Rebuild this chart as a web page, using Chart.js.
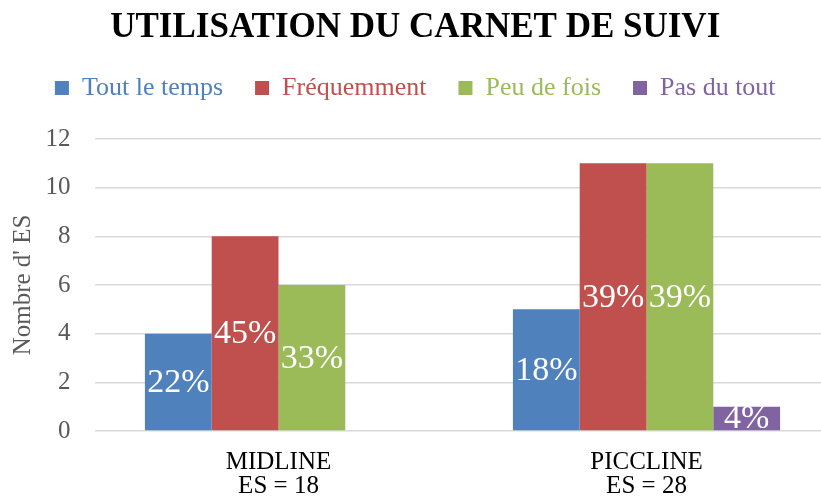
<!DOCTYPE html>
<html lang="fr">
<head>
<meta charset="utf-8">
<title>Utilisation du carnet de suivi</title>
<script src="https://cdn.jsdelivr.net/npm/chart.js@4.4.1/dist/chart.umd.min.js"></script>
<style>
  html, body { margin: 0; padding: 0; background: #fff; overflow: hidden; }
  #wrap { width: 821px; height: 502px; overflow: hidden; }
  canvas { display: block; }
</style>
</head>
<body>
<div id="wrap"><canvas id="carnetChart" width="836" height="502"></canvas></div>
<script>
// Catégories et valeurs (nombre d'ES)
const categories = [['MIDLINE', 'ES = 18'], ['PICCLINE', 'ES = 28']];
const seriesNames = ['Tout le temps', 'Fréquemment', 'Peu de fois', 'Pas du tout'];
const toutLeTemps = [4, 5];
const frequemment = [8, 11];
const peuDeFois = [6, 11];
const pasDuTout = [0, 1];

// Pourcentages affichés dans les barres
const pctToutLeTemps = ['22%', '18%'];
const pctFrequemment = ['45%', '39%'];
const pctPeuDeFois = ['33%', '39%'];
const pctPasDuTout = [null, '4%'];

const yMin = 0, yMax = 12, yStep = 2;

const colors = ['#4f81bd', '#c0504d', '#9bbb59', '#8064a2'];
const serif = '"Liberation Serif", "Times New Roman", serif';

const seriesValues = [toutLeTemps, frequemment, peuDeFois, pasDuTout];
const seriesPct = [pctToutLeTemps, pctFrequemment, pctPeuDeFois, pctPasDuTout];

// Texte blanc au centre de chaque barre
const barLabels = {
    id: 'barLabels',
    afterDatasetsDraw(chart) {
        const ctx = chart.ctx;
        ctx.save();
        ctx.font = '34px ' + serif;
        ctx.fillStyle = '#ffffff';
        ctx.textAlign = 'center';
        ctx.textBaseline = 'middle';
        chart.data.datasets.forEach((ds, i) => {
            chart.getDatasetMeta(i).data.forEach((bar, j) => {
                const txt = ds.pct[j];
                if (!txt) return;
                ctx.fillText(txt, bar.x, (bar.y + bar.base) / 2 + 1);
            });
        });
        ctx.restore();
    }
};

// Espace supplémentaire sous la légende
const legendGap = {
    id: 'legendGap',
    beforeInit(chart) {
        const fit = chart.legend.fit;
        chart.legend.fit = function () {
            fit.call(this);
            this.height += 28;
        };
    }
};

const ctx = document.getElementById('carnetChart').getContext('2d');
const carnetChart = new Chart(ctx, {
    type: 'bar',
    data: {
        labels: categories,
        datasets: seriesNames.map((name, i) => ({
            label: name,
            data: seriesValues[i],
            pct: seriesPct[i],
            backgroundColor: colors[i],
            borderWidth: 0,
            categoryPercentage: 0.726,
            barPercentage: 1
        }))
    },
    options: {
        responsive: false,
        animation: false,
        layout: { padding: { left: 0, right: 5.5, top: 0, bottom: 0 } },
        plugins: {
            title: {
                display: true,
                text: 'UTILISATION DU CARNET DE SUIVI',
                color: '#000',
                font: { family: serif, size: 35, weight: 'bold' },
                padding: { top: 7, bottom: -6 }
            },
            legend: {
                position: 'top',
                labels: {
                    font: { family: serif, size: 26 },
                    boxWidth: 14,
                    boxHeight: 14,
                    padding: 32,
                    generateLabels(chart) {
                        const items = Chart.defaults.plugins.legend.labels.generateLabels(chart);
                        items.forEach(it => {
                            it.fontColor = it.fillStyle;
                            it.lineWidth = 0;
                        });
                        return items;
                    }
                }
            },
            tooltip: { enabled: false }
        },
        scales: {
            x: {
                grid: { display: false, drawTicks: false },
                border: { display: false },
                ticks: {
                    color: '#000',
                    font: { family: serif, size: 25, lineHeight: 0.95 },
                    padding: 20,
                    maxRotation: 0
                },
                afterFit(scale) { scale.height = 71; }
            },
            y: {
                min: yMin,
                max: yMax,
                border: { display: false },
                grid: { color: '#d9d9d9', lineWidth: 1.5, drawTicks: false },
                ticks: {
                    stepSize: yStep,
                    color: '#595959',
                    font: { family: serif, size: 25 },
                    padding: 24
                },
                title: {
                    display: true,
                    text: "Nombre d' ES",
                    color: '#595959',
                    font: { family: serif, size: 25 },
                    padding: { top: 8, bottom: 0 }
                },
                afterFit(scale) { scale.width = 94.5; }
            }
        }
    },
    plugins: [legendGap, barLabels]
});
</script>
</body>
</html>
